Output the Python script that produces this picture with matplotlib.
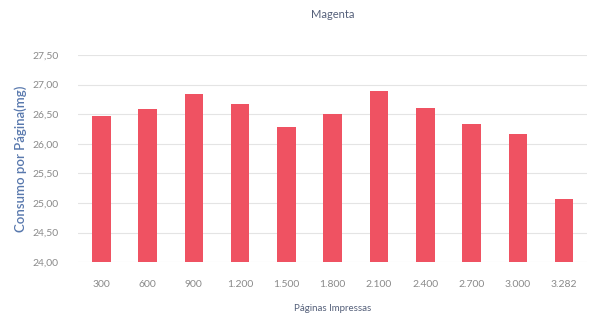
import numpy as np
import matplotlib.pyplot as plt

paginas = ['300', '600', '900', '1.200', '1.500', '1.800', '2.100', '2.400', '2.700', '3.000', '3.282']
consumo = [26.47, 26.58, 26.85, 26.68, 26.28, 26.50, 26.89, 26.60, 26.34, 26.16, 25.06]
yticks = [24.0, 24.5, 25.0, 25.5, 26.0, 26.5, 27.0, 27.5]

plt.rcParams['font.family'] = ['Lato', 'DejaVu Sans']

fig = plt.figure(figsize=(6.06, 3.22), dpi=100)
ax = fig.add_axes([0.129, 0.186, 0.84, 0.643])

x = np.arange(len(paginas))
ax.bar(x, consumo, width=0.4, color='#ef5262', zorder=3)

ax.set_xlim(-0.5, len(paginas) - 0.5)
ax.set_ylim(24.0, 27.5)
ax.set_yticks(yticks)
ax.set_yticklabels([('%.2f' % v).replace('.', ',') for v in yticks])
ax.set_xticks(x)
ax.set_xticklabels(paginas)
ax.yaxis.grid(True, color='#e4e4e4', linewidth=0.8, zorder=0)
for s in ax.spines.values():
    s.set_visible(False)
ax.tick_params(length=0, labelsize=7.5, colors='#8a8a8a')
ax.tick_params(axis='x', pad=13)
ax.tick_params(axis='y', pad=14)

ax.set_title('Magenta', fontsize=8, color='#55607a', pad=27)
ax.set_xlabel('Páginas Impressas', fontsize=7, color='#55607a', labelpad=11)
ax.set_ylabel('Consumo por Página(mg)', fontsize=9.5, color='#5878ad',
              fontweight='semibold', labelpad=4)

fig.savefig('out.png', dpi=100)
